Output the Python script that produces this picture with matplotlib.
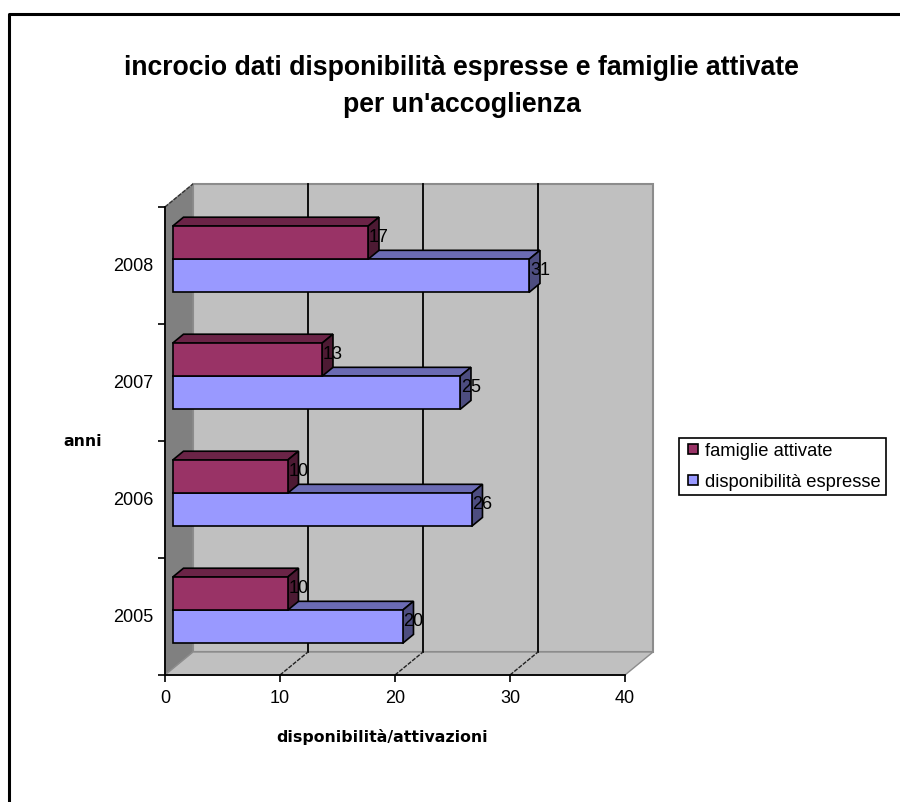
import matplotlib
matplotlib.use("Agg")
import matplotlib.pyplot as plt
from matplotlib.patches import Polygon
from matplotlib.lines import Line2D
from matplotlib.transforms import ScaledTranslation

years = ["2005", "2006", "2007", "2008"]
famiglie = [10, 10, 13, 17]
disponibilita = [20, 26, 25, 31]
x_ticks = [0, 10, 20, 30, 40]
series_names = ["famiglie attivate", "disponibilità espresse"]
title_text = "incrocio dati disponibilità espresse e famiglie attivate\nper un'accoglienza"

W, H = 900, 802
RED, RED_TOP, RED_SIDE = "#993366", "#6B2447", "#4D1A33"
BLUE, BLUE_TOP, BLUE_SIDE = "#9999FF", "#6B6BB3", "#4D4D80"
WALL, SIDEWALL, EDGE = "#C0C0C0", "#808080", "#8C8C8C"

plt.rcParams["font.family"] = ["Liberation Sans", "DejaVu Sans"]
fig = plt.figure(figsize=(W / 100, H / 100), dpi=100, facecolor="white")

def px_axes(l, t, r, b):
    return fig.add_axes([l / W, 1 - b / H, (r - l) / W, (b - t) / H])

ax = px_axes(165, 207, 625, 675)
ax.set_xlim(0, 40)
ax.set_ylim(0, 4)
ax.patch.set_alpha(0)

# depth of the 3D box, in data units
DX, DY = 28 / 11.5, 23 / 117

def pt(x, y, d=0.0):
    return (x + d * DX, y + d * DY)

def poly(points, fc, ec, lw, z):
    ax.add_patch(Polygon(points, closed=True, facecolor=fc, edgecolor=ec,
                         linewidth=lw, zorder=z, clip_on=False))

# walls and floor
poly([pt(0, 0, 1), pt(40, 0, 1), pt(40, 4, 1), pt(0, 4, 1)], WALL, EDGE, 1.5, 0.5)
poly([pt(0, 0), pt(0, 4), pt(0, 4, 1), pt(0, 0, 1)], SIDEWALL, EDGE, 1.0, 0.6)
poly([pt(0, 0), pt(40, 0), pt(40, 0, 1), pt(0, 0, 1)], WALL, EDGE, 1.0, 0.6)

# gridlines on back wall and floor
for v in x_ticks[1:-1]:
    a, b, c = pt(v, 0), pt(v, 0, 1), pt(v, 4, 1)
    ax.plot([b[0], c[0]], [b[1], c[1]], color="black", lw=1.3, zorder=0.8, clip_on=False)
    ax.plot([a[0], b[0]], [a[1], b[1]], color="#222222", lw=1.0, ls=(0, (3, 1)), zorder=0.8, clip_on=False)
a, b = pt(0, 4), pt(0, 4, 1)
ax.plot([a[0], b[0]], [a[1], b[1]], color="#333333", lw=1.0, ls=(0, (3, 1)), zorder=0.8, clip_on=False)

# bars
D0, D1 = 0.27, 0.66
BAR_H = 0.283
EC, LW = "black", 1.2

def bar3d(i, value, bottom, face, top, side, z):
    x0 = 0
    y0, y1 = i + bottom, i + bottom + BAR_H
    poly([pt(x0, y1, D0), pt(value, y1, D0), pt(value, y1, D1), pt(x0, y1, D1)], top, EC, LW, z)
    poly([pt(value, y0, D0), pt(value, y1, D0), pt(value, y1, D1), pt(value, y0, D1)], side, EC, LW, z)
    ax.barh(i + bottom + BAR_H / 2 + D0 * DY, value, height=BAR_H, left=D0 * DX, color=face,
            edgecolor=EC, linewidth=LW, zorder=z + 0.1, clip_on=False)

for i in reversed(range(len(years))):
    z = 3 + (len(years) - i)
    bar3d(i, disponibilita[i], 0.5 - BAR_H, BLUE, BLUE_TOP, BLUE_SIDE, z)
    bar3d(i, famiglie[i], 0.5, RED, RED_TOP, RED_SIDE, z + 0.3)

# value labels
for i in range(len(years)):
    for val, bottom in ((famiglie[i], 0.5), (disponibilita[i], 0.5 - BAR_H)):
        x, y = pt(val, i + bottom + BAR_H / 2, D0)
        ax.text(x + 11 / 11.5, y + 5 / 117, str(val), ha="center", va="center",
                fontsize=13, color="black", zorder=20, clip_on=False)

# axes, ticks
for s in ("top", "right"):
    ax.spines[s].set_visible(False)
for s in ("left", "bottom"):
    ax.spines[s].set_linewidth(1.3)
    ax.spines[s].set_zorder(2)
ax.set_xticks(x_ticks)
ax.set_yticks(range(len(years) + 1))
ax.set_yticklabels([])
ax.set_yticks([i + 0.5 for i in range(len(years))], minor=True)
ax.set_yticklabels(years, minor=True, fontsize=13)
ax.tick_params(axis="y", which="major", length=5, width=1.2)
ax.tick_params(axis="y", which="minor", length=0, pad=8.5)
ax.tick_params(axis="x", length=5, width=1.2, labelsize=13, pad=6)
shift = ScaledTranslation(0, 1.5 / 100, fig.dpi_scale_trans)
for lbl in ax.get_yticklabels(minor=True):
    lbl.set_transform(lbl.get_transform() + shift)

# axis titles
fig.text(382.5 / W, 1 - 737 / H, "disponibilità/attivazioni", ha="center", va="center",
         fontsize=11.3, fontweight="bold", family="DejaVu Sans")
fig.text(82.5 / W, 1 - 441 / H, "anni", ha="center", va="center",
         fontsize=11.3, fontweight="bold", family="DejaVu Sans")

# title
fig.text(461.5 / W, 1 - 86.5 / H, title_text, ha="center", va="center", fontsize=19.2,
         fontweight="bold", linespacing=1.54, family="Liberation Sans")

# legend
handles = [Line2D([], [], ls="none", marker="s", markersize=7, markerfacecolor=RED,
                  markeredgecolor="black", markeredgewidth=1.2),
           Line2D([], [], ls="none", marker="s", markersize=7, markerfacecolor=BLUE,
                  markeredgecolor="black", markeredgewidth=1.2)]
leg = fig.legend(handles, series_names, loc="upper left",
                 bbox_to_anchor=(679 / W, 1 - 438 / H), bbox_transform=fig.transFigure,
                 frameon=True, fancybox=False, framealpha=1, edgecolor="black",
                 fontsize=13.2, handlelength=1.05, handletextpad=0.14,
                 borderpad=0.25, borderaxespad=0, labelspacing=0.77)
leg.get_frame().set_linewidth(1.2)

# outer chart border
fig.add_artist(Line2D([8.5 / W, 8.5 / W, 1], [0, 1 - 13.5 / H, 1 - 13.5 / H],
                      color="black", lw=2.2, transform=fig.transFigure))

fig.savefig("out.png", dpi=100, facecolor="white")
